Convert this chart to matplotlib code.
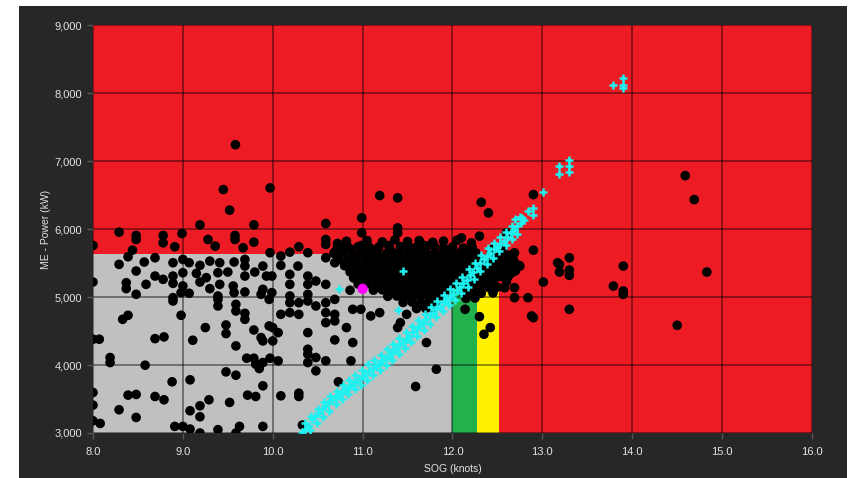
import matplotlib
matplotlib.use("Agg")
import matplotlib.pyplot as plt
from matplotlib.patches import Rectangle
from matplotlib.ticker import FuncFormatter

# ---------------- data ----------------
x_ticks = [8.0, 9.0, 10.0, 11.0, 12.0, 13.0, 14.0, 15.0, 16.0]
y_ticks = [3000, 4000, 5000, 6000, 7000, 8000, 9000]

# zones: (x0, x1, top power)
grey_zone = (8.0, 12.0, 5630)
green_zone = (12.0, 12.27, 5140)
yellow_zone = (12.27, 12.52, 5140)

# measured (black) points: (SOG, power)
black_pts = [
    # sparse, 8-10 knots upper
    (9.585, 7240), (9.45, 6580), (9.97, 6604), (9.52, 6277), (9.19, 6061), (9.79, 6061),
    (8.29, 5954), (8.48, 5905), (8.48, 5846), (8.78, 5905), (8.78, 5797), (8.99, 5934),
    (8.91, 5739), (9.28, 5846), (9.36, 5748), (9.58, 5905), (9.58, 5846), (9.67, 5724),
    (9.79, 5807), (8.0, 5758), (8.44, 5690), (8.39, 5592), (9.97, 5651), (8.29, 5480),
    (8.69, 5577), (8.57, 5514), (8.89, 5504), (9.0, 5553), (9.07, 5504), (9.19, 5465),
    (9.30, 5528), (9.41, 5504), (9.57, 5514), (9.69, 5553), (9.69, 5455), (9.89, 5455),
    (8.48, 5382), (8.69, 5308), (8.78, 5260), (8.89, 5308), (9.0, 5357), (9.15, 5347),
    (9.26, 5284), (9.39, 5357), (9.5, 5367), (9.69, 5308), (9.8, 5367), (9.93, 5308),
    (8.0, 5220), (8.37, 5210), (8.59, 5186), (8.89, 5201), (9.0, 5162), (9.19, 5220),
    (9.3, 5123), (9.41, 5186), (9.56, 5162), (9.69, 5074), (8.37, 5123), (8.48, 5040),
    (8.89, 4990), (8.98, 5064), (9.07, 5055), (9.39, 5015), (9.57, 5064), (9.87, 5040),
    # 8-10 knots lower
    (8.89, 4941), (9.39, 4965), (9.39, 4868), (9.59, 4892), (9.59, 4794), (9.69, 4760),
    (9.69, 4672), (9.96, 4965), (8.33, 4672), (8.39, 4731), (8.98, 4731), (9.25, 4550),
    (9.48, 4589), (9.48, 4462), (9.79, 4515), (9.87, 4403), (9.89, 4354), (9.96, 4574),
    (8.0, 4379), (8.07, 4379), (8.69, 4388), (8.79, 4413), (9.11, 4364), (9.59, 4281),
    (8.19, 4110), (8.19, 4036), (8.58, 3997), (9.71, 4100), (9.79, 4100), (9.81, 4012),
    (9.85, 3948), (9.89, 4036), (9.97, 4100), (9.48, 3899), (9.59, 3850), (8.88, 3753),
    (9.08, 3782), (9.89, 3694), (8.0, 3596), (8.39, 3557), (8.48, 3567), (8.69, 3537),
    (8.79, 3489), (8.0, 3410), (8.29, 3342), (8.48, 3229), (9.08, 3327), (9.19, 3400),
    (9.29, 3489), (9.19, 3239), (9.52, 3450), (9.72, 3557), (9.81, 3537), (8.0, 3180),
    (8.08, 3141), (8.91, 3097), (9.0, 3097), (9.08, 3058), (9.19, 3000), (9.39, 3049),
    (9.63, 3097), (9.59, 3000), (9.89, 3097),
    # 10-12 knots upper
    (11.19, 6492), (11.39, 6458), (10.99, 6164), (10.59, 6081), (10.99, 5944), (11.39, 6017),
    (11.39, 5944), (10.59, 5846), (10.59, 5773), (10.72, 5788), (10.79, 5724), (10.99, 5758),
    (10.99, 5700), (11.29, 5758), (11.69, 5758), (10.09, 5602), (10.19, 5660), (10.29, 5739),
    (10.39, 5651), (10.69, 5660), (10.09, 5465), (10.28, 5455), (10.59, 5577), (10.69, 5504),
    (10.19, 5333), (10.39, 5308), (10.48, 5235), (10.59, 5186), (9.99, 5308), (10.19, 5186),
    (10.39, 5186), (9.89, 5113), (9.99, 5064), (10.19, 5015), (10.39, 5040),
    # 10-12 knots lower
    (10.19, 4916), (10.29, 4916), (10.39, 4941), (10.48, 4868), (10.59, 4916), (10.69, 4965),
    (10.69, 4745), (10.59, 4770), (10.19, 4770), (10.29, 4745), (10.09, 4745), (10.59, 4623),
    (10.69, 4648), (10.89, 4819), (10.98, 4819), (11.09, 4721), (11.19, 4770), (11.49, 4745),
    (10.0, 4550), (10.06, 4476), (10.0, 4354), (10.39, 4476), (10.82, 4550), (10.69, 4369),
    (10.89, 4330), (11.39, 4550), (11.42, 4623), (11.71, 4330), (10.39, 4232), (10.39, 4159),
    (10.39, 4036), (10.06, 4061), (10.48, 4110), (10.59, 4061), (10.48, 3914), (10.87, 4061),
    (10.73, 3753), (10.09, 3547), (10.29, 3586), (10.29, 3537), (11.59, 3684), (11.82, 3938),
    (10.33, 3117),
    # dense cluster 10.7-12.3 knots
    (10.82, 5820), (11.05, 5830), (11.22, 5810), (11.36, 5840), (11.50, 5815), (11.63, 5830),
    (11.78, 5805), (12.05, 5835),
    (10.72, 5730), (10.85, 5720), (10.95, 5740), (11.08, 5725), (11.18, 5735), (11.30, 5720),
    (11.42, 5740), (11.52, 5725), (11.60, 5735), (11.70, 5720), (11.80, 5740), (11.90, 5725),
    (12.00, 5735), (12.12, 5720), (12.22, 5730),
    (10.68, 5640), (10.78, 5650), (10.88, 5635), (10.98, 5645), (11.07, 5640), (11.16, 5650),
    (11.26, 5635), (11.35, 5645), (11.44, 5640), (11.53, 5650), (11.62, 5635), (11.71, 5645),
    (11.80, 5640), (11.89, 5650), (11.98, 5635), (12.07, 5645), (12.16, 5640), (12.26, 5650),
    (10.74, 5550), (10.84, 5545), (10.94, 5555), (11.04, 5550), (11.13, 5545), (11.22, 5555),
    (11.31, 5550), (11.40, 5545), (11.49, 5555), (11.58, 5550), (11.67, 5545), (11.76, 5555),
    (11.85, 5550), (11.94, 5545), (12.03, 5555), (12.12, 5550), (12.21, 5545), (12.30, 5555),
    (10.80, 5460), (10.90, 5465), (10.99, 5455), (11.09, 5460), (11.18, 5465), (11.27, 5455),
    (11.36, 5460), (11.45, 5465), (11.54, 5455), (11.63, 5460), (11.72, 5465), (11.81, 5455),
    (11.90, 5460), (11.99, 5465), (12.08, 5455), (12.17, 5460), (12.26, 5465),
    (10.86, 5370), (10.96, 5375), (11.05, 5365), (11.14, 5370), (11.23, 5375), (11.32, 5365),
    (11.41, 5370), (11.50, 5375), (11.59, 5365), (11.68, 5370), (11.77, 5375), (11.86, 5365),
    (11.95, 5370), (12.04, 5375), (12.13, 5365), (12.22, 5370),
    (10.90, 5280), (11.00, 5285), (11.10, 5275), (11.19, 5280), (11.28, 5285), (11.37, 5275),
    (11.46, 5280), (11.55, 5285), (11.64, 5275), (11.73, 5280), (11.82, 5285), (11.91, 5275),
    (12.00, 5280), (12.10, 5285),
    (10.95, 5190), (11.06, 5195), (11.16, 5185), (11.25, 5190), (11.34, 5195), (11.43, 5185),
    (11.52, 5190), (11.61, 5195), (11.70, 5185), (11.79, 5190), (11.88, 5195), (11.97, 5185),
    (12.05, 5190),
    (10.86, 5100), (11.12, 5100), (11.22, 5105), (11.31, 5095), (11.40, 5100), (11.49, 5105),
    (11.58, 5095), (11.67, 5100), (11.76, 5105), (11.85, 5095), (11.94, 5100),
    (11.28, 5010), (11.38, 5015), (11.47, 5005), (11.56, 5010), (11.65, 5015), (11.74, 5005),
    (11.83, 5010), (11.90, 5015),
    (11.45, 4920), (11.55, 4925), (11.64, 4915), (11.73, 4920), (11.82, 4925),
    (11.60, 4830), (11.70, 4835), (11.78, 4825),
    # right of the cyan band
    (12.45, 5700), (12.55, 5705),
    (12.42, 5620), (12.52, 5625), (12.62, 5615),
    (12.42, 5540), (12.50, 5545), (12.60, 5535), (12.68, 5540),
    (12.38, 5460), (12.47, 5465), (12.56, 5455), (12.66, 5460), (12.74, 5465),
    (12.30, 5380), (12.40, 5385), (12.50, 5375), (12.60, 5380), (12.70, 5385),
    (12.22, 5300), (12.32, 5305), (12.42, 5295), (12.52, 5300), (12.62, 5305),
    (12.15, 5220), (12.25, 5225), (12.35, 5215), (12.45, 5220), (12.60, 5225),
    (12.12, 5140), (12.20, 5145), (12.30, 5135), (12.40, 5140), (12.50, 5145),
    (12.12, 5060), (12.22, 5065), (12.32, 5055), (12.45, 5060),
    (12.15, 4980), (12.25, 4985),
    # 12-13 knots outliers
    (12.32, 6393), (12.40, 6237), (12.90, 6506), (12.60, 5944), (12.30, 5895), (12.10, 5870),
    (12.21, 5797), (11.90, 5821), (12.90, 5689), (12.69, 5650), (12.75, 5455), (12.66, 5357),
    (12.69, 5137), (12.58, 5137), (12.69, 4990), (12.84, 4990), (12.88, 4721), (12.30, 4711),
    (12.14, 4819), (12.90, 4696), (12.42, 4550), (12.35, 4452),
    # 13-16 knots
    (14.59, 6785), (14.69, 6433), (13.30, 5577), (13.19, 5479), (13.19, 5367), (13.30, 5396),
    (13.30, 5318), (13.01, 5220), (13.90, 5455), (13.79, 5161), (13.90, 5088), (13.90, 5039),
    (14.83, 5367), (13.30, 4819), (14.50, 4584), (13.17, 5504),
]

# model / reference (cyan) points: (SOG, power)
cyan_pts = [
    (10.32, 3010), (10.36, 3060), (10.40, 3110), (10.44, 3210), (10.47, 3250), (10.51, 3300),
    (10.55, 3350), (10.58, 3390), (10.62, 3440), (10.66, 3480), (10.70, 3530), (10.73, 3560),
    (10.77, 3600), (10.81, 3640), (10.85, 3680), (10.88, 3710), (10.92, 3750), (10.96, 3800),
    (11.00, 3840), (11.03, 3870), (11.07, 3910), (11.11, 3950), (11.15, 3980), (11.18, 4010),
    (11.22, 4060), (11.26, 4110), (11.30, 4150), (11.33, 4190), (11.37, 4240), (11.41, 4290),
    (11.45, 4340), (11.48, 4380), (11.52, 4430), (11.56, 4480), (11.60, 4530), (11.63, 4570),
    (11.67, 4620), (11.71, 4680), (11.75, 4730), (11.78, 4770), (11.82, 4820), (11.86, 4870),
    (11.90, 4920), (11.93, 4950), (11.97, 5000), (12.01, 5050), (12.05, 5110), (12.08, 5150),
    (12.12, 5200), (12.16, 5250), (12.20, 5320), (12.23, 5370), (12.27, 5430), (12.31, 5500),
    (12.35, 5560), (12.38, 5600), (12.42, 5650), (12.46, 5700), (12.50, 5740), (12.53, 5780),
    (12.57, 5830), (12.61, 5880), (12.65, 5940), (12.68, 5980), (12.72, 6040), (12.76, 6090),
    (10.42, 3040), (10.49, 3150), (10.56, 3240), (10.63, 3330), (10.70, 3420), (10.77, 3500),
    (10.84, 3570), (10.91, 3640), (10.98, 3700), (11.05, 3780), (11.12, 3850), (11.19, 3920),
    (11.26, 4000), (11.33, 4080), (11.40, 4160), (11.47, 4250), (11.54, 4340), (11.61, 4420),
    (11.68, 4510), (11.75, 4610), (11.82, 4700), (11.89, 4790), (11.96, 4880), (12.03, 4960),
    (12.10, 5060), (12.17, 5150), (12.24, 5260), (12.31, 5380), (12.38, 5490), (12.45, 5580),
    (12.52, 5670), (12.59, 5760), (12.66, 5850), (12.72, 5930),
    (10.36, 3140), (10.43, 3250), (10.50, 3360), (10.57, 3450), (10.64, 3540), (10.71, 3620),
    (10.78, 3700), (10.85, 3780), (10.92, 3850), (10.99, 3930), (11.06, 4010), (11.13, 4080),
    (11.20, 4150), (11.27, 4230), (11.34, 4310), (11.41, 4400), (11.48, 4480), (11.55, 4570),
    (11.62, 4660), (11.69, 4750), (11.76, 4850), (11.83, 4940), (11.90, 5030), (11.97, 5120),
    (12.04, 5210), (12.11, 5300), (12.18, 5410), (12.25, 5500), (12.32, 5620), (12.39, 5720),
    (12.46, 5800), (12.53, 5880), (12.60, 5960), (12.66, 6050), (12.70, 6140), (12.75, 6180),
    (12.79, 6130), (12.84, 6262), (12.77, 6164), (12.90, 6311), (12.90, 6213), (13.01, 6541),
    (13.19, 6932), (13.19, 6810), (13.30, 7010), (13.30, 6922), (13.30, 6834),
    (13.79, 8120), (13.90, 8218), (13.90, 8120), (13.90, 8071),
    (10.74, 5113), (11.45, 5380), (11.39, 4809),
]

# current (magenta) point
current_pt = (11.0, 5120)

# ---------------- colours ----------------
BG = "#272727"
RED = "#ed1c24"
GREY = "#c0c0c0"
GREEN = "#22b14c"
YELLOW = "#fff200"
CYAN = "#1ff0f0"
MAGENTA = "#ff00ff"
TXT = "#e4e4e4"

plt.rcParams['font.family'] = ['Liberation Sans', 'DejaVu Sans']

fig = plt.figure(figsize=(8.5, 4.78), dpi=100, facecolor="white")
bg_ax = fig.add_axes([19 / 850, 0, (847 - 19) / 850, 472 / 478], zorder=-10)
bg_ax.set_facecolor(BG)
bg_ax.set_xticks([])
bg_ax.set_yticks([])
for s in bg_ax.spines.values():
    s.set_visible(False)

ax = fig.add_axes([93 / 850, 1 - 433 / 478, (812 - 93) / 850, (433 - 25) / 478], zorder=1)
ax.set_facecolor(RED)
ax.set_xlim(x_ticks[0], x_ticks[-1])
ax.set_ylim(y_ticks[0], y_ticks[-1])

for (x0, x1, top), col in [(grey_zone, GREY), (green_zone, GREEN), (yellow_zone, YELLOW)]:
    ax.add_patch(Rectangle((x0, y_ticks[0]), x1 - x0, top - y_ticks[0],
                           facecolor=col, edgecolor="none", zorder=1))

ax.set_xticks(x_ticks)
ax.set_yticks(y_ticks)
ax.xaxis.set_major_formatter(FuncFormatter(lambda v, p: f"{v:.1f}"))
ax.yaxis.set_major_formatter(FuncFormatter(lambda v, p: f"{int(v):,}"))
ax.set_axisbelow(False)
ax.grid(True, color="black", alpha=0.42, linewidth=1.4)
for gl in ax.get_xgridlines() + ax.get_ygridlines():
    gl.set_zorder(2)

for s in ax.spines.values():
    s.set_visible(False)
ax.tick_params(axis="both", colors="#555555", length=4, width=1,
               labelcolor=TXT, labelsize=8)
ax.tick_params(axis="x", pad=6)
ax.tick_params(axis="y", pad=4)

bx = [p[0] for p in black_pts]
by = [p[1] for p in black_pts]
cx = [p[0] for p in cyan_pts]
cy = [p[1] for p in cyan_pts]

ax.scatter(bx, by, s=48, c="black", edgecolors="none", zorder=3)
ax.scatter(cx, cy, s=40, marker="+", c=CYAN, linewidths=1.8, zorder=4)
ax.scatter([current_pt[0]], [current_pt[1]], s=55, c=MAGENTA, edgecolors="none", zorder=5)

ax.set_xlabel("SOG (knots)", color=TXT, fontsize=7.5, labelpad=5)
ax.set_ylabel("ME - Power (kW)", color=TXT, fontsize=7.5, labelpad=2)

fig.savefig("out.png", dpi=100, facecolor=fig.get_facecolor())
